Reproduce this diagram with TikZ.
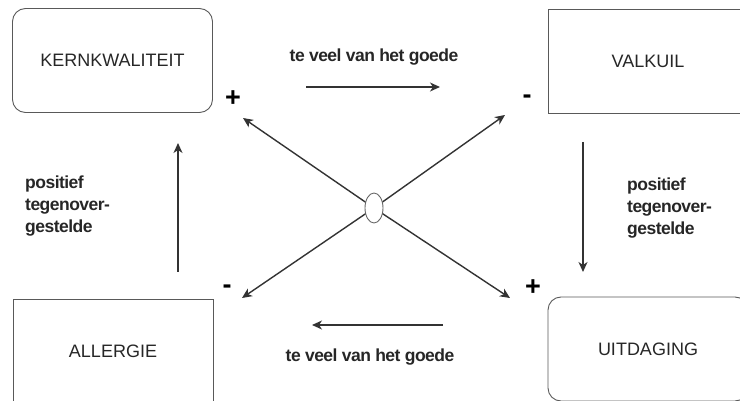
\documentclass[tikz,border=0pt]{standalone}
\usepackage{fontspec}
\setmainfont{Liberation Sans}
\usetikzlibrary{arrows.meta,shapes.geometric}
\begin{document}
\begin{tikzpicture}[x=1pt,y=-1pt,
  box/.style={draw=black!65, line width=0.9pt, minimum width=200pt, minimum height=104pt,
    inner sep=0pt, font=\fontsize{18}{20}\selectfont, text=black!85},
  rbox/.style={box, rounded corners=13pt},
  conn/.style={draw=black!80, line width=1.4pt, -{Stealth[length=10pt,width=9pt,inset=3pt]}},
  lbl/.style={font=\fontsize{17.5}{22}\selectfont\bfseries\addfontfeature{LetterSpace=-3}, text=black!85, inner sep=0pt},
  sign/.style={font=\fontsize{27}{27}\selectfont\bfseries, inner sep=0pt, anchor=base}]
\path[use as bounding box] (0,0) rectangle (740,401);
\clip (0,0) rectangle (740,401);

% boxes
\node[rbox] (kern) at (112.5,60.5) {KERNKWALITEIT};
\node[box]  (valk) at (648,61)     {VALKUIL};
\node[box]  (allg) at (113,351)    {ALLERGIE};
\node[rbox] (uitd) at (648,349)    {UITDAGING};

% centre ellipse
\node[ellipse, draw=black!60, fill=white, line width=0.9pt, minimum width=18pt,
  minimum height=30pt, inner sep=0pt] (ctr) at (374,208) {};

% arrow end points
\coordinate (htA) at (306,87);
\coordinate (htB) at (440,87);
\coordinate (hbA) at (443,325);
\coordinate (hbB) at (312,325);
\coordinate (vlA) at (178,272);
\coordinate (vlB) at (178,143);
\coordinate (vrA) at (583,142);
\coordinate (vrB) at (583,272);
\coordinate (dTL) at (243,118);
\coordinate (dTR) at (505,115);
\coordinate (dBL) at (242,298);
\coordinate (dBR) at (510,298);

% connectors
\draw[conn] (htA) -- (htB);
\draw[conn] (hbA) -- (hbB);
\draw[conn] (vlA) -- (vlB);
\draw[conn] (vrA) -- (vrB);
\draw[conn] (ctr) -- (dTL);
\draw[conn] (ctr) -- (dTR);
\draw[conn] (ctr) -- (dBL);
\draw[conn] (ctr) -- (dBR);

% labels
\node[lbl] (ltop) at (374,57) {te veel van het goede};
\node[lbl] (lbot) at (370,357) {te veel van het goede};
\node[lbl, anchor=west, align=left] (lleft) at (25,206) {positief\\tegenover-\\gestelde};
\node[lbl, anchor=west, align=left] (lright) at (627,208) {positief\\tegenover-\\gestelde};

% signs
\node[sign] (sTL) at (233,107) {+};
\node[sign] (sTR) at (527,104) {-};
\node[sign] (sBL) at (227,294) {-};
\node[sign] (sBR) at (533,296) {+};
\end{tikzpicture}
\end{document}
